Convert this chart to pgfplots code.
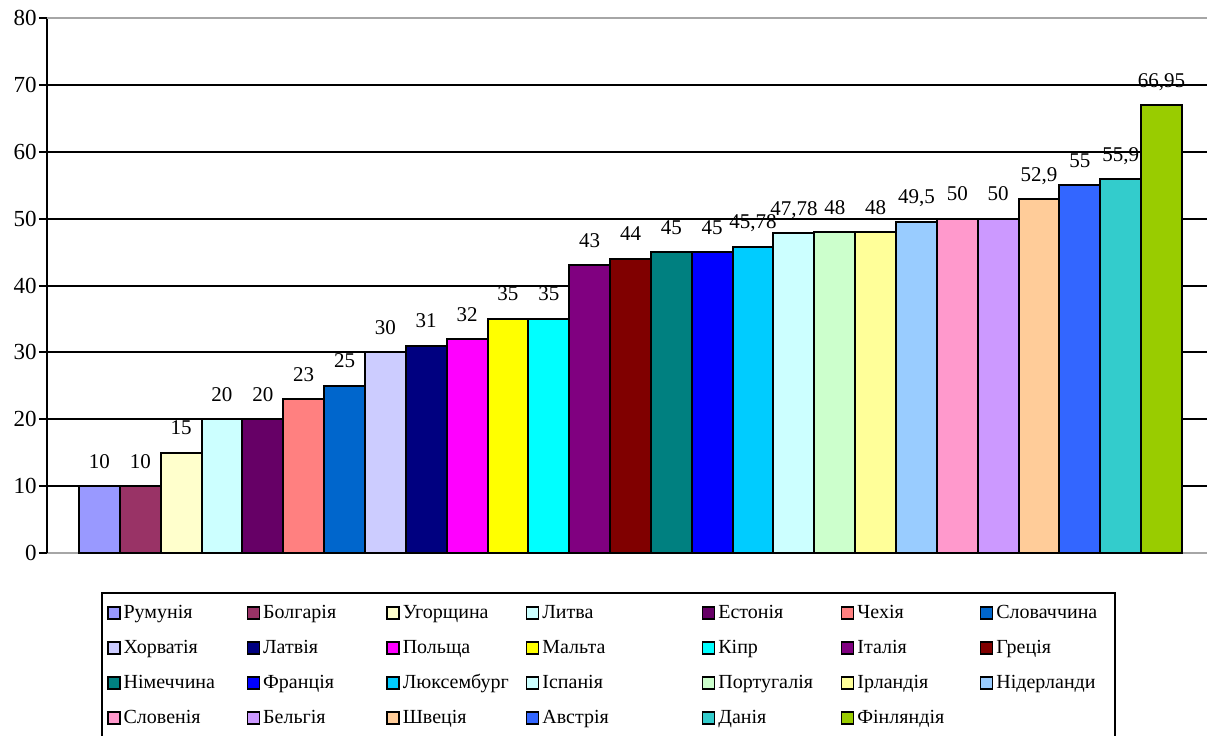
\documentclass[border=0pt]{standalone}
\usepackage{fontspec}
\setmainfont{Liberation Serif}
\usepackage{pgfplots}
\pgfplotsset{compat=1.18}

% bar fills, Excel-style palette
\definecolor{c01}{HTML}{9999FF}
\definecolor{c02}{HTML}{993366}
\definecolor{c03}{HTML}{FFFFCC}
\definecolor{c04}{HTML}{CCFFFF}
\definecolor{c05}{HTML}{660066}
\definecolor{c06}{HTML}{FF8080}
\definecolor{c07}{HTML}{0066CC}
\definecolor{c08}{HTML}{CCCCFF}
\definecolor{c09}{HTML}{000080}
\definecolor{c10}{HTML}{FF00FF}
\definecolor{c11}{HTML}{FFFF00}
\definecolor{c12}{HTML}{00FFFF}
\definecolor{c13}{HTML}{800080}
\definecolor{c14}{HTML}{800000}
\definecolor{c15}{HTML}{008080}
\definecolor{c16}{HTML}{0000FF}
\definecolor{c17}{HTML}{00CCFF}
\definecolor{c18}{HTML}{CCFFFF}
\definecolor{c19}{HTML}{CCFFCC}
\definecolor{c20}{HTML}{FFFF99}
\definecolor{c21}{HTML}{99CCFF}
\definecolor{c22}{HTML}{FF99CC}
\definecolor{c23}{HTML}{CC99FF}
\definecolor{c24}{HTML}{FFCC99}
\definecolor{c25}{HTML}{3366FF}
\definecolor{c26}{HTML}{33CCCC}
\definecolor{c27}{HTML}{99CC00}

% legend text boxes: widths per legend column
\newcommand{\la}[1]{\makebox[60.0pt][l]{#1}}
\newcommand{\lb}[1]{\makebox[78.2pt][l]{#1}}
\newcommand{\lc}[1]{\makebox[59.7pt][l]{#1}}
\newcommand{\ld}[1]{\makebox[55.2pt][l]{#1}}

\begin{document}
\begin{tikzpicture}
\useasboundingbox (-23.5pt,-91pt) rectangle (580pt,276.5pt);
\clip (-23.5pt,-91pt) rectangle (580pt,276.5pt);
\begin{axis}[
  at={(0pt,0pt)}, anchor=south west,
  scale only axis,
  width=583.5pt, height=267.5pt,
  ybar, bar width=1, bar shift=0pt,
  xmin=-1.2834, xmax=27.2834,
  ymin=0, ymax=80,
  xtick=\empty,
  ytick={0,10,...,70},
  extra y ticks={80},
  extra y tick style={grid style={gray!70, line width=1pt}},
  ymajorgrids,
  grid style={black, line width=1pt},
  axis x line*=bottom,
  axis y line*=left,
  x axis line style={gray!70, line width=1pt, -},
  y axis line style={black, line width=1.3pt, -},
  tick align=outside,
  major tick length=4pt,
  tick style={black, line width=1pt},
  ytick style={black, line width=1pt},
  yticklabel style={font=\fontsize{11.5}{13}\selectfont, inner xsep=1pt},
  /pgf/number format/assume math mode=true,
  /pgf/number format/use comma,
  every axis plot/.append style={draw=black, line width=1pt},
  nodes near coords,
  nodes near coords style={font=\fontsize{10.5}{12}\selectfont, anchor=south,
    inner sep=0pt, text depth=0pt, yshift=8.5pt, black},
  legend columns=7,
  legend image code/.code={\draw[#1, draw=black, line width=0.8pt] (0pt,-3pt) rectangle (6pt,3pt);},
  legend style={
    at={(axis description cs:0.04627,-0.0729)}, anchor=north west,
    draw=black, line width=1pt, fill=white,
    inner xsep=2.5pt, inner ysep=5pt,
    font=\fontsize{10}{12}\selectfont,
    row sep=7.5pt,
    nodes={inner xsep=1.5pt, inner ysep=0pt, text height=7.5pt, text depth=2.5pt},
    /tikz/every even column/.append style={column sep=0pt},
  },
]
\addplot[fill=c01] coordinates {(0,10)};    \addlegendentry{\la{Румунія}}
\addplot[fill=c02] coordinates {(1,10)};    \addlegendentry{\la{Болгарія}}
\addplot[fill=c03] coordinates {(2,15)};    \addlegendentry{\la{Угорщина}}
\addplot[fill=c04] coordinates {(3,20)};    \addlegendentry{\lb{Литва}}
\addplot[fill=c05] coordinates {(4,20)};    \addlegendentry{\lc{Естонія}}
\addplot[fill=c06] coordinates {(5,23)};    \addlegendentry{\lc{Чехія}}
\addplot[fill=c07] coordinates {(6,25)};    \addlegendentry{\ld{Словаччина}}
\addplot[fill=c08] coordinates {(7,30)};    \addlegendentry{\la{Хорватія}}
\addplot[fill=c09] coordinates {(8,31)};    \addlegendentry{\la{Латвія}}
\addplot[fill=c10] coordinates {(9,32)};    \addlegendentry{\la{Польща}}
\addplot[fill=c11] coordinates {(10,35)};   \addlegendentry{\lb{Мальта}}
\addplot[fill=c12] coordinates {(11,35)};   \addlegendentry{\lc{Кіпр}}
\addplot[fill=c13] coordinates {(12,43)};   \addlegendentry{\lc{Італія}}
\addplot[fill=c14] coordinates {(13,44)};   \addlegendentry{\ld{Греція}}
\addplot[fill=c15] coordinates {(14,45)};   \addlegendentry{\la{Німеччина}}
\addplot[fill=c16] coordinates {(15,45)};   \addlegendentry{\la{Франція}}
\addplot[fill=c17] coordinates {(16,45.78)};\addlegendentry{\la{Люксембург}}
\addplot[fill=c18] coordinates {(17,47.78)};\addlegendentry{\lb{Іспанія}}
\addplot[fill=c19] coordinates {(18,48)};   \addlegendentry{\lc{Португалія}}
\addplot[fill=c20] coordinates {(19,48)};   \addlegendentry{\lc{Ірландія}}
\addplot[fill=c21] coordinates {(20,49.5)}; \addlegendentry{\ld{Нідерланди}}
\addplot[fill=c22] coordinates {(21,50)};   \addlegendentry{\la{Словенія}}
\addplot[fill=c23] coordinates {(22,50)};   \addlegendentry{\la{Бельгія}}
\addplot[fill=c24] coordinates {(23,52.9)}; \addlegendentry{\la{Швеція}}
\addplot[fill=c25] coordinates {(24,55)};   \addlegendentry{\lb{Австрія}}
\addplot[fill=c26] coordinates {(25,55.9)}; \addlegendentry{\lc{Данія}}
\addplot[fill=c27] coordinates {(26,66.95)};\addlegendentry{\lc{Фінляндія}}
\end{axis}
\end{tikzpicture}
\end{document}
